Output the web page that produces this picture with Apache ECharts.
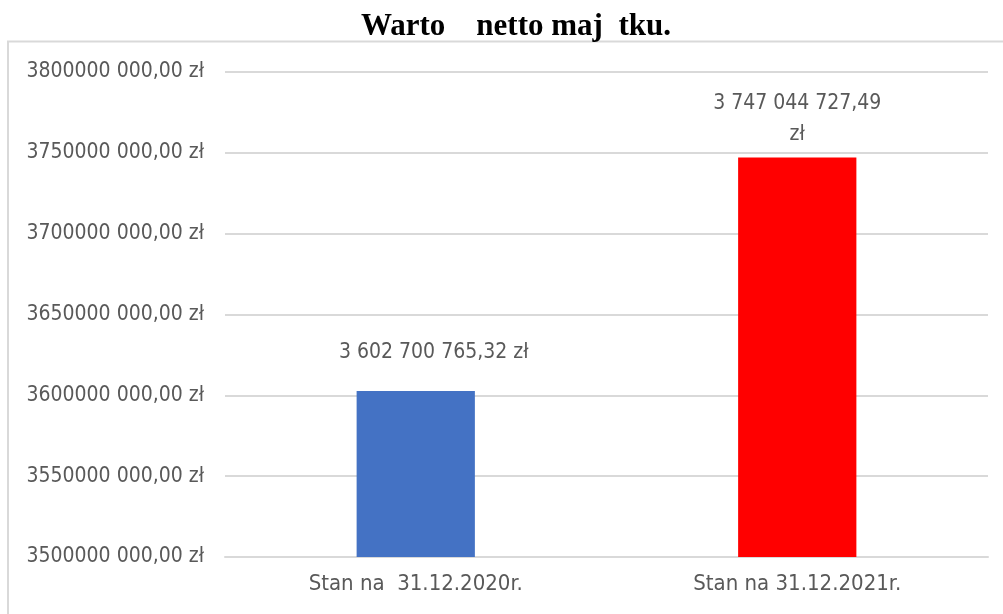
<!DOCTYPE html>
<html>
<head>
<meta charset="utf-8">
<script src="https://cdn.jsdelivr.net/npm/echarts@6/dist/echarts.min.js"></script>
<style>
  html, body { margin: 0; padding: 0; background: #fff; }
  #chart { width: 1003px; height: 614px; }
</style>
</head>
<body>
<div id="chart"></div>
<script>
var categories = ['Stan na  31.12.2020r.', 'Stan na 31.12.2021r.'];
var values = [3602700765.32, 3747044727.49];
var valueLabels = ['3 602 700 765,32 zł', '3 747 044 727,49\nzł'];
var barColors = ['#4472c4', '#ff0000'];

var labelFont = '"Liberation Sans Narrow", "DejaVu Sans Condensed", sans-serif';

var chartDom = document.getElementById('chart');
var myChart = echarts.init(chartDom);
var option;

function yLabel(v) {
    var thousands = Math.floor(v / 1000);
    var rest = String(v % 1000);
    while (rest.length < 3) rest = '0' + rest;
    return thousands + ' ' + rest + ',00 zł';
}

// label placement per bar (the first one sits a bit to the right in the original)
var labelOffsets = [[18, 0], [0, 15]];

option = {
    animation: false,
    title: {
        text: 'Warto    netto maj  tku.',
        left: 356,
        top: 6,
        textStyle: {
            fontFamily: '"Liberation Serif", "Times New Roman", serif',
            fontWeight: 'bold',
            fontSize: 31,
            color: '#000'
        }
    },
    graphic: [
        {
            type: 'rect',
            shape: { x: 8, y: 41.5, width: 1100, height: 700 },
            style: { fill: 'none', stroke: '#d9d9d9', lineWidth: 2 },
            silent: true
        }
    ],
    grid: {
        left: 225,
        right: 15,
        top: 72,
        bottom: 57
    },
    xAxis: {
        type: 'category',
        data: categories,
        axisTick: { show: false },
        axisLine: { lineStyle: { color: '#d9d9d9', width: 2 } },
        axisLabel: {
            color: '#595959',
            fontFamily: labelFont,
            fontSize: 22,
            margin: 16
        }
    },
    yAxis: {
        type: 'value',
        min: 3500000000,
        max: 3800000000,
        interval: 50000000,
        axisLine: { show: false },
        axisTick: { show: false },
        splitLine: { lineStyle: { color: '#d9d9d9', width: 2 } },
        axisLabel: {
            color: '#595959',
            fontFamily: labelFont,
            fontSize: 21,
            margin: 21,
            formatter: yLabel
        }
    },
    series: [
        {
            type: 'bar',
            barWidth: '31%',
            data: values.map(function (v, i) {
                return {
                    value: v,
                    itemStyle: { color: barColors[i] },
                    label: { offset: labelOffsets[i] }
                };
            }),
            label: {
                show: true,
                position: 'top',
                distance: 23,
                color: '#595959',
                fontFamily: labelFont,
                fontSize: 21,
                lineHeight: 31,
                formatter: function (p) { return valueLabels[p.dataIndex]; }
            }
        }
    ]
};

option && myChart.setOption(option);
</script>
</body>
</html>
